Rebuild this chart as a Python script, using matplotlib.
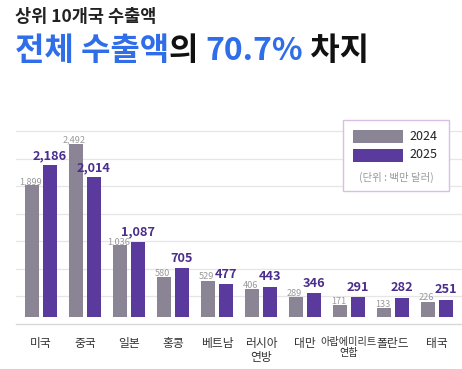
import matplotlib
matplotlib.use('Agg')
import matplotlib.pyplot as plt
from matplotlib.patches import Rectangle
import numpy as np

plt.rcParams['font.family'] = ['Noto Sans CJK KR', 'DejaVu Sans']

countries = ['미국', '중국', '일본', '홍콩', '베트남', '러시아\n연방', '대만',
             '아랍에미리트\n연합', '폴란드', '태국']
years = ['2024', '2025']
exports_2024 = [1899, 2492, 1036, 580, 529, 406, 289, 171, 133, 226]
exports_2025 = [2186, 2014, 1087, 705, 477, 443, 346, 291, 282, 251]

C24 = '#8a8494'
C25 = '#5b3a9e'
BLUE = '#2f6ee8'
W, H = 462, 369


def fx(x):
    return x / W


def fy(y):
    return 1 - y / H


fig = plt.figure(figsize=(W / 100, H / 100), dpi=100)
fig.patch.set_facecolor('white')

# plot area: left 16px, right 462px, top 125px, bottom 324px
ax = fig.add_axes([fx(16), fy(324), fx(446), (324 - 125) / H])
x = np.arange(len(countries))
off, bw = 0.205, 0.32
ax.bar(x - off, exports_2024, bw, color=C24, zorder=3)
ax.bar(x + off, exports_2025, bw, color=C25, zorder=3)

ax.set_xlim(-0.564, 9.57)
ax.set_ylim(-96, 2767)
ax.set_yticks(-96 + 395.7 * np.arange(1, 8))
ax.yaxis.grid(True, color='#e6e6e6', linewidth=0.9, zorder=0)
ax.tick_params(axis='y', left=False, labelleft=False)
ax.set_xticks(x)
ax.set_xticklabels(countries, fontsize=8.5, color='#333333', linespacing=1.15,
                   va='top')
ax.tick_params(axis='x', length=0, pad=9)
# the long UAE label is set tighter, as in the original
for lbl in ax.get_xticklabels():
    if len(lbl.get_text()) > 8:
        lbl.set_fontsize(7.3)
for s in ['top', 'left', 'right']:
    ax.spines[s].set_visible(False)
ax.spines['bottom'].set_color('#d8d8d8')
ax.spines['bottom'].set_linewidth(1.0)

for xi, v in zip(x, exports_2024):
    ax.annotate(f'{v:,}', (xi - off, v), xytext=(-1, -0.5), textcoords='offset points',
                ha='center', va='bottom', fontsize=6.6, color='#9a9a9a', zorder=4)
for xi, v in zip(x, exports_2025):
    ax.annotate(f'{v:,}', (xi + off, v), xytext=(0, 2.5), textcoords='offset points',
                ha='center', va='bottom', fontsize=9.2, color='#4a2d8c',
                fontweight='bold')

# title
fig.text(fx(15), fy(17), '상위 10개국 수출액', fontsize=12.6, fontweight='bold',
         color='#222222', va='center', ha='left')

renderer = fig.canvas.get_renderer()
parts = [('전체 수출액', BLUE), ('의 ', '#111111'), ('70.7%', BLUE), (' 차지', '#111111')]
cur = 15
for txt, col in parts:
    t = fig.text(fx(cur), fy(51), txt, fontsize=23, fontweight='bold', color=col,
                 va='center', ha='left')
    bb = t.get_window_extent(renderer)
    cur += bb.width

# legend box
fig.patches.append(Rectangle((fx(343), fy(191)), fx(106), (191 - 120) / H,
                             transform=fig.transFigure, facecolor='white',
                             edgecolor='#d9bfe3', linewidth=1.0, zorder=5))
for (yr, col), yc in zip(zip(years, [C24, C25]), [136, 155]):
    fig.patches.append(Rectangle((fx(353), fy(yc + 6.5)), fx(50), 13 / H,
                                 transform=fig.transFigure, facecolor=col,
                                 edgecolor='none', zorder=6))
    fig.text(fx(409), fy(yc), yr, fontsize=9, color='#222222', va='center',
             ha='left', zorder=7)
fig.text(fx(396), fy(177), '(단위 : 백만 달러)', fontsize=7.5, color='#9a9a9a',
         va='center', ha='center', zorder=7)

fig.savefig('out.png', dpi=100)
